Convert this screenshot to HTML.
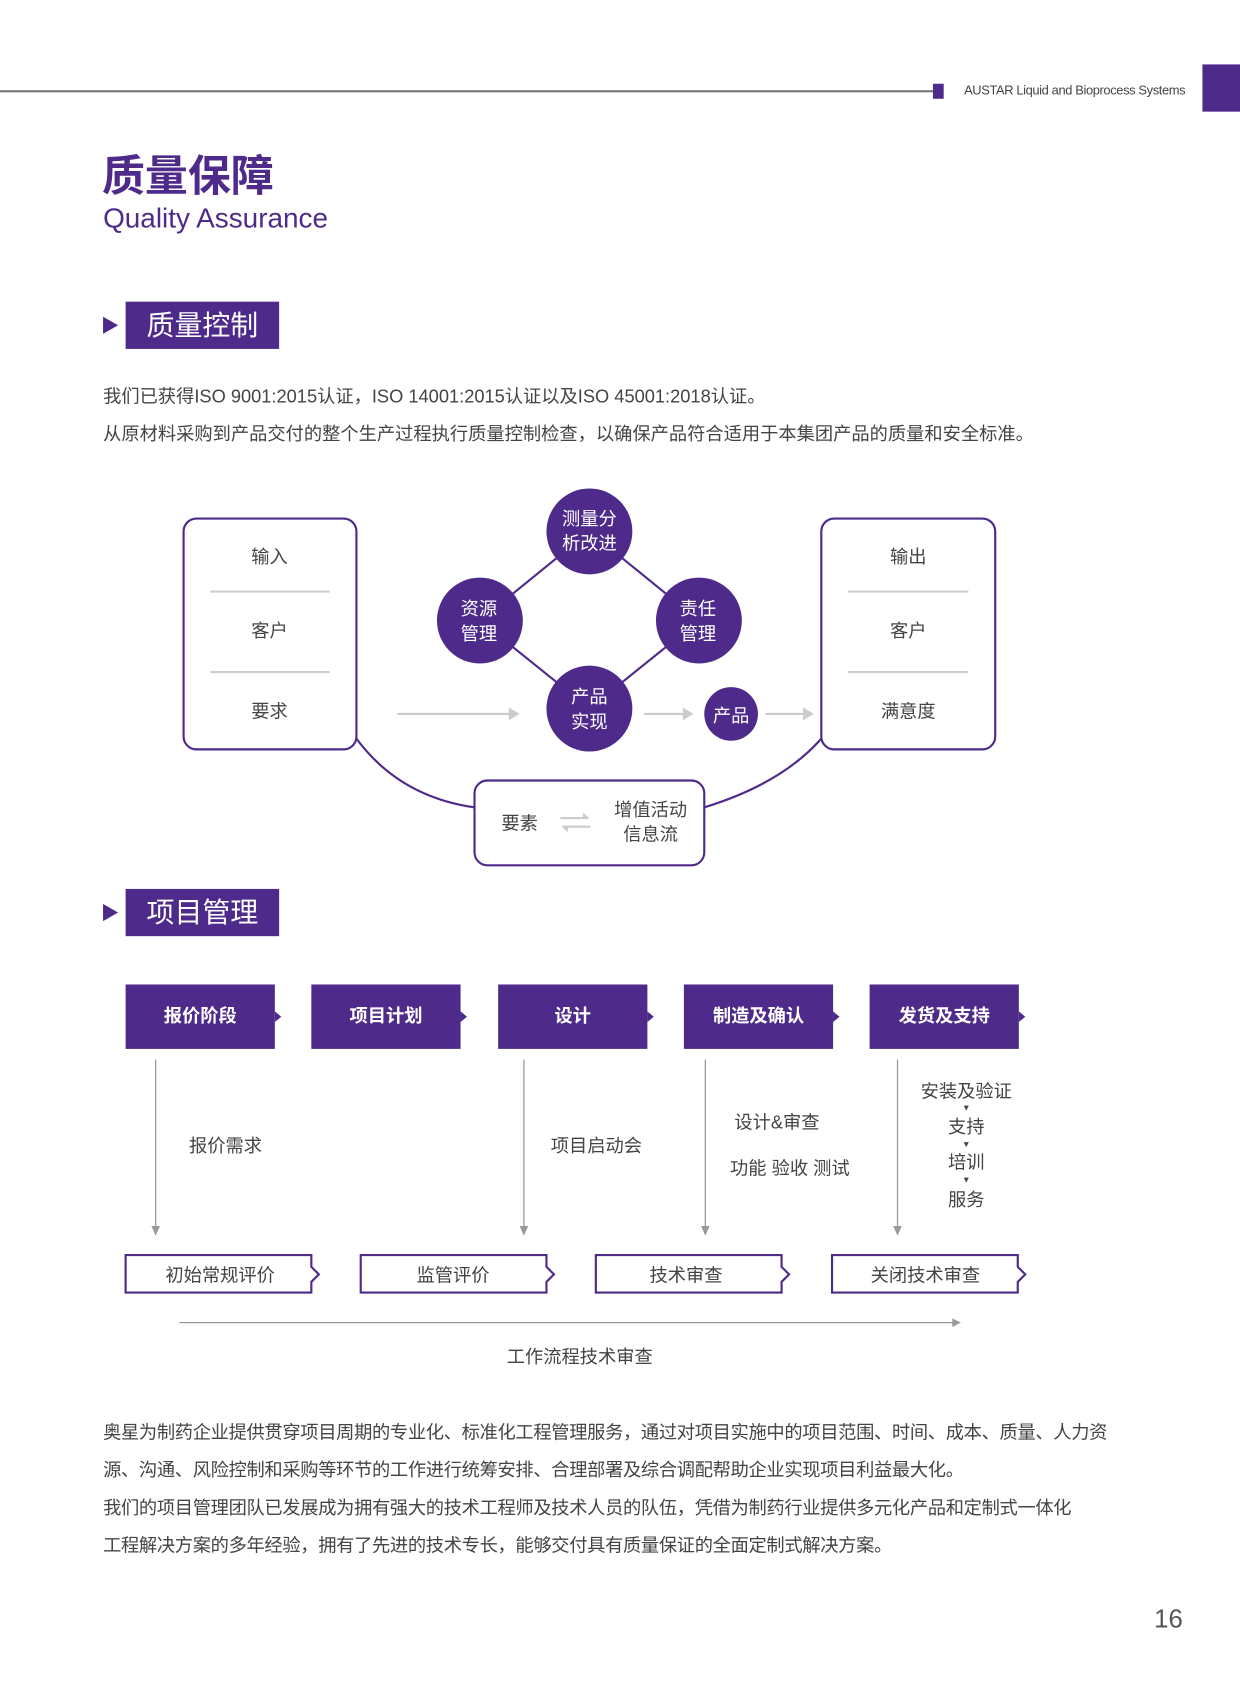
<!DOCTYPE html>
<html><head><meta charset="utf-8"><style>
html,body{margin:0;padding:0;background:#fff;}
body{width:1240px;height:1683px;overflow:hidden;position:relative;}
#w{position:absolute;left:0;top:0;width:1155px;height:1568px;transform:scale(1.07359);transform-origin:0 0;font-family:"Liberation Sans","Noto Sans CJK SC",sans-serif;color:#444;}
.a{position:absolute;white-space:nowrap;}
.c{position:absolute;white-space:nowrap;transform:translate(-50%,-50%);}
.p{color:#4e2a8a;}
.tb{position:absolute;top:917px;height:60px;width:139px;background:#4e2a8a;color:#fff;font-weight:bold;font-size:17px;line-height:60px;text-align:center;}
.tb:after{content:"";position:absolute;right:-6px;top:25px;border-left:6px solid #4e2a8a;border-top:5px solid transparent;border-bottom:5px solid transparent;}
.para{font-size:17px;color:#444;}
</style></head><body><div id="w">
<div class="a" style="left:0;top:84px;width:870px;height:2px;background:#777"></div>
<div class="a" style="left:869px;top:78px;width:10px;height:14px;background:#4e2a8a"></div>
<div class="a" style="left:898px;top:77px;font-size:12px;color:#444;letter-spacing:-0.35px">AUSTAR Liquid and Bioprocess Systems</div>
<div class="a" style="left:1120px;top:60px;width:35px;height:44px;background:#4e2a8a"></div>
<div class="a p" style="left:95px;top:140px;font-size:40px;font-weight:bold;line-height:50px">质量保障</div>
<div class="a p" style="left:96px;top:187px;font-size:26px;line-height:32px">Quality Assurance</div>

<div class="a" style="left:96px;top:295px;border-left:14px solid #4e2a8a;border-top:8px solid transparent;border-bottom:8px solid transparent"></div>
<div class="a" style="left:117px;top:281px;width:143px;height:44px;background:#4e2a8a;color:#fff;font-size:26px;line-height:44px;text-align:center">质量控制</div>
<div class="a para" style="left:96px;top:358px;line-height:24px">我们已获得ISO 9001:2015认证，ISO 14001:2015认证以及ISO 45001:2018认证。</div>
<div class="a para" style="left:96px;top:393px;line-height:24px">从原材料采购到产品交付的整个生产过程执行质量控制检查，以确保产品符合适用于本集团产品的质量和安全标准。</div>

<svg class="a" style="left:0;top:0" width="1155" height="1568">
<g fill="none" stroke="#4e2a8a" stroke-width="2">
<rect x="171" y="483" width="161" height="215" rx="12"/>
<rect x="765" y="483" width="162" height="215" rx="12"/>
<rect x="442" y="727" width="214" height="79" rx="12"/>
<path d="M332 688 Q372 742 442 752"/>
<path d="M656 752 Q728 730 765 688"/>
<line x1="549" y1="495" x2="447" y2="578"/><line x1="549" y1="495" x2="651" y2="578"/>
<line x1="447" y1="578" x2="549" y2="660"/><line x1="651" y1="578" x2="549" y2="660"/>
</g>
<g stroke="#ccc" stroke-width="2"><line x1="196" y1="551" x2="307" y2="551"/><line x1="196" y1="626" x2="307" y2="626"/><line x1="790" y1="551" x2="902" y2="551"/><line x1="790" y1="626" x2="902" y2="626"/></g>
<g fill="#4e2a8a"><circle cx="549" cy="495" r="40"/><circle cx="447" cy="578" r="40"/><circle cx="651" cy="578" r="40"/><circle cx="549" cy="660" r="40"/><circle cx="681" cy="665" r="25"/></g>
<g stroke="#ccc" stroke-width="2"><line x1="370" y1="665" x2="476" y2="665"/><line x1="600" y1="665" x2="638" y2="665"/><line x1="713" y1="665" x2="750" y2="665"/><line x1="522" y1="762" x2="548" y2="762"/><line x1="524" y1="770" x2="550" y2="770"/></g>
<g fill="#ccc"><path d="M474 659 L484 665 L474 671Z"/><path d="M636 659 L646 665 L636 671Z"/><path d="M748 659 L758 665 L748 671Z"/><path d="M543 757 L549 762 L543 762Z"/><path d="M529 775 L523 770 L529 770Z"/></g>
<g stroke="#999" stroke-width="1.2"><line x1="145" y1="987" x2="145" y2="1148"/><line x1="488" y1="987" x2="488" y2="1148"/><line x1="657" y1="987" x2="657" y2="1148"/><line x1="836" y1="987" x2="836" y2="1148"/><line x1="167" y1="1232" x2="890" y2="1232"/></g>
<g fill="#999"><path d="M141 1142 L145 1151 L149 1142Z"/><path d="M484 1142 L488 1151 L492 1142Z"/><path d="M653 1142 L657 1151 L661 1142Z"/><path d="M832 1142 L836 1151 L840 1142Z"/><path d="M887 1228 L895 1232 L887 1236Z"/></g>
<g fill="#fff" stroke="#4e2a8a" stroke-width="2">
<path d="M117 1169 H290 V1180 L297 1187 L290 1194 V1204 H117Z"/>
<path d="M336 1169 H509 V1180 L516 1187 L509 1194 V1204 H336Z"/>
<path d="M555 1169 H728 V1180 L735 1187 L728 1194 V1204 H555Z"/>
<path d="M775 1169 H948 V1180 L955 1187 L948 1194 V1204 H775Z"/>
</g>
</svg>

<div class="c" style="left:251px;top:517px;font-size:17px">输入</div>
<div class="c" style="left:251px;top:586px;font-size:17px">客户</div>
<div class="c" style="left:251px;top:661px;font-size:17px">要求</div>
<div class="c" style="left:846px;top:517px;font-size:17px">输出</div>
<div class="c" style="left:846px;top:586px;font-size:17px">客户</div>
<div class="c" style="left:846px;top:661px;font-size:17px">满意度</div>
<div class="c" style="left:549px;top:495px;font-size:17px;color:#fff;text-align:center;line-height:23px">测量分<br>析改进</div>
<div class="c" style="left:446px;top:579px;font-size:17px;color:#fff;text-align:center;line-height:23px">资源<br>管理</div>
<div class="c" style="left:650px;top:579px;font-size:17px;color:#fff;text-align:center;line-height:23px">责任<br>管理</div>
<div class="c" style="left:549px;top:661px;font-size:17px;color:#fff;text-align:center;line-height:23px">产品<br>实现</div>
<div class="c" style="left:681px;top:665px;font-size:17px;color:#fff">产品</div>
<div class="c" style="left:484px;top:765px;font-size:17px">要素</div>
<div class="c" style="left:606px;top:766px;font-size:17px;text-align:center;line-height:23px">增值活动<br>信息流</div>

<div class="a" style="left:96px;top:842px;border-left:14px solid #4e2a8a;border-top:8px solid transparent;border-bottom:8px solid transparent"></div>
<div class="a" style="left:117px;top:828px;width:143px;height:44px;background:#4e2a8a;color:#fff;font-size:26px;line-height:44px;text-align:center">项目管理</div>

<div class="tb" style="left:117px">报价阶段</div>
<div class="tb" style="left:290px">项目计划</div>
<div class="tb" style="left:464px">设计</div>
<div class="tb" style="left:637px">制造及确认</div>
<div class="tb" style="left:810px">发货及支持</div>

<div class="a" style="left:176px;top:1053px;font-size:17px">报价需求</div>
<div class="a" style="left:513px;top:1053px;font-size:17px">项目启动会</div>
<div class="a" style="left:684px;top:1031px;font-size:17px">设计&amp;审查</div>
<div class="a" style="left:680px;top:1074px;font-size:17px">功能 验收 测试</div>
<div class="c" style="left:900px;top:1015px;font-size:17px">安装及验证</div>
<div class="c" style="left:900px;top:1032px;font-size:8px">▼</div>
<div class="c" style="left:900px;top:1048px;font-size:17px">支持</div>
<div class="c" style="left:900px;top:1066px;font-size:8px">▼</div>
<div class="c" style="left:900px;top:1081px;font-size:17px">培训</div>
<div class="c" style="left:900px;top:1099px;font-size:8px">▼</div>
<div class="c" style="left:900px;top:1116px;font-size:17px">服务</div>

<div class="c" style="left:205px;top:1186px;font-size:17px">初始常规评价</div>
<div class="c" style="left:422px;top:1186px;font-size:17px">监管评价</div>
<div class="c" style="left:639px;top:1186px;font-size:17px">技术审查</div>
<div class="c" style="left:862px;top:1186px;font-size:17px">关闭技术审查</div>
<div class="c" style="left:540px;top:1262px;font-size:17px">工作流程技术审查</div>

<div class="a para" style="left:96px;top:1317px;line-height:35px;white-space:nowrap;letter-spacing:-0.3px">奥星为制药企业提供贯穿项目周期的专业化、标准化工程管理服务，通过对项目实施中的项目范围、时间、成本、质量、人力资<br>源、沟通、风险控制和采购等环节的工作进行统筹安排、合理部署及综合调配帮助企业实现项目利益最大化。<br>我们的项目管理团队已发展成为拥有强大的技术工程师及技术人员的队伍，凭借为制药行业提供多元化产品和定制式一体化<br>工程解决方案的多年经验，拥有了先进的技术专长，能够交付具有质量保证的全面定制式解决方案。</div>
<div class="a" style="left:1075px;top:1495px;font-size:24px;color:#555">16</div>
</div></body></html>
